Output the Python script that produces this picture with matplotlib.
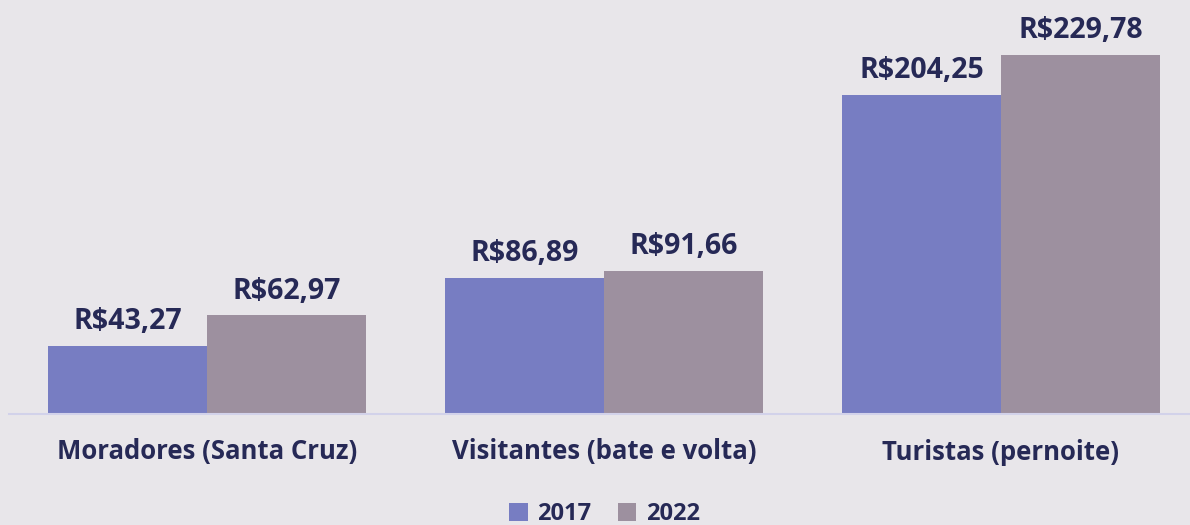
import matplotlib.pyplot as plt
import numpy as np

# %% data
categorias = ['Moradores (Santa Cruz)', 'Visitantes (bate e volta)', 'Turistas (pernoite)']
anos = ['2017', '2022']
gasto_2017 = [43.27, 86.89, 204.25]
gasto_2022 = [62.97, 91.66, 229.78]

cor_2017 = '#777DC2'
cor_2022 = '#9D909F'
cor_texto = '#262956'
fundo = '#E8E6EA'

plt.rcParams['font.family'] = ['Open Sans', 'DejaVu Sans']


def rotulo(v):
    return 'R$' + f'{v:.2f}'.replace('.', ',')


# %% plot
fig = plt.figure(figsize=(11.9, 5.25), dpi=100, facecolor=fundo)
ax = fig.add_axes([8.5 / 1190, (525 - 413.5) / 525, 1 - 8.5 / 1190, 390 / 525])
ax.set_facecolor(fundo)

x = np.arange(len(categorias))
w = 0.4
b1 = ax.bar(x - w / 2, gasto_2017, w, color=cor_2017, label=anos[0])
b2 = ax.bar(x + w / 2, gasto_2022, w, color=cor_2022, label=anos[1])

for barras in (b1, b2):
    for r in barras:
        ax.annotate(rotulo(r.get_height()), (r.get_x() + r.get_width() / 2, r.get_height()),
                    xytext=(0, 7), textcoords='offset points', ha='center', va='bottom',
                    fontsize=20.5, fontweight='bold', color=cor_texto, annotation_clip=False)

ax.set_xlim(-0.5, (1190 - 207) / 397)
ax.set_ylim(0, 250)
ax.set_yticks([])
ax.set_xticks(x)
ax.set_xticklabels(categorias, fontsize=18.5, fontweight='bold', color=cor_texto)
ax.tick_params(axis='x', length=0, pad=18)
for s in ['top', 'right', 'left']:
    ax.spines[s].set_visible(False)
ax.spines['bottom'].set_color('#D2D2EA')
ax.spines['bottom'].set_linewidth(1.5)

leg = fig.legend(loc='center', bbox_to_anchor=(0.508, 0.02), ncol=2, frameon=False,
                 prop={'size': 17, 'weight': 'bold'}, handlelength=0.8, handleheight=0.8,
                 handletextpad=0.4, columnspacing=1.1)
for t in leg.get_texts():
    t.set_color(cor_texto)

# %% save figure as .png
fig.savefig('out.png', dpi=100, facecolor=fundo)
